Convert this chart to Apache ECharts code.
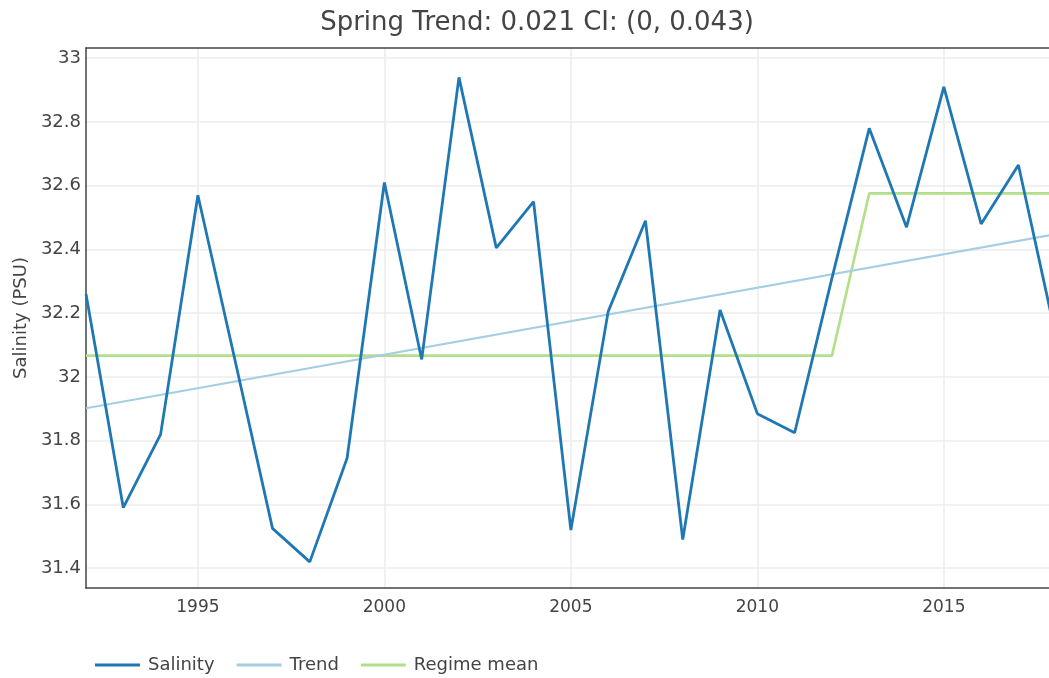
<!DOCTYPE html>
<html>
<head>
<meta charset="utf-8">
<script src="https://cdn.jsdelivr.net/npm/echarts@6/dist/echarts.min.js"></script>
<style>
html,body{margin:0;padding:0;background:#fff;}
#chart{width:1049px;height:678px;}
</style>
</head>
<body>
<div id="chart"></div>
<script>
var years = [1992,1993,1994,1995,1996,1997,1998,1999,2000,2001,2002,2003,2004,2005,2006,2007,2008,2009,2010,2011,2012,2013,2014,2015,2016,2017,2018];
var salinity = [32.26,31.59,31.82,32.57,32.05,31.525,31.42,31.745,32.61,32.055,32.94,32.405,32.55,31.52,32.205,32.49,31.49,32.21,31.885,31.825,32.31,32.78,32.47,32.91,32.48,32.665,32.13];
var trendYears = [1992, 2018];
var trendValues = [31.902, 32.448];
var regimeMean = [32.067,32.067,32.067,32.067,32.067,32.067,32.067,32.067,32.067,32.067,32.067,32.067,32.067,32.067,32.067,32.067,32.067,32.067,32.067,32.067,32.067,32.576,32.576,32.576,32.576,32.576,32.576];
var xTicks = [1995,2000,2005,2010,2015];
var yTicks = [31.4,31.6,31.8,32,32.2,32.4,32.6,32.8,33];

function pairs(xs, ys){ return xs.map(function(x,i){ return [x, ys[i]]; }); }

var font = 'DejaVu Sans';
var chart = echarts.init(document.getElementById('chart'), null, {renderer:'canvas'});
chart.setOption({
  animation: false,
  backgroundColor: '#fff',
  title: {
    text: 'Spring Trend: 0.021 CI: (0, 0.043)',
    left: 532, top: 5, textAlign: 'center',
    textStyle: {fontFamily: font, fontSize: 26, fontWeight: 'normal', color: '#444'}
  },
  legend: {
    left: 95, top: 656, padding: 0,
    icon: 'rect',
    itemWidth: 45, itemHeight: 3, itemGap: 22,
    textStyle: {fontFamily: font, fontSize: 18, color: '#444', padding:[0,0,0,3]},
    data: ['Salinity','Trend','Regime mean']
  },
  grid: {left: 86, top: 48, bottom: 90, right: -3, containLabel: false},
  xAxis: [{
    type: 'value', min: 1992, max: 2017.82,
    axisLine: {show: true, onZero: false, lineStyle: {color: '#444', width: 1.5}},
    axisTick: {show: false, customValues: xTicks},
    axisLabel: {customValues: xTicks, formatter: function(v){ return String(v); },
      fontFamily: font, fontSize: 17, color: '#444', margin: 11},
    splitLine: {show: true, lineStyle: {color: '#ececec', width: 1.5}}
  },{
    type: 'value', min: 1992, max: 2017.82, position: 'top',
    axisLine: {show: true, onZero: false, lineStyle: {color: '#444', width: 1.5}},
    axisTick: {show: false}, axisLabel: {show: false}, splitLine: {show: false}
  }],
  yAxis: {
    type: 'value', min: 31.338, max: 33.032,
    name: 'Salinity (PSU)', nameLocation: 'middle', nameGap: 52,
    nameTextStyle: {fontFamily: font, fontSize: 18, color: '#444'},
    axisLine: {show: true, onZero: false, lineStyle: {color: '#444', width: 1.5}},
    axisTick: {show: false, customValues: yTicks},
    axisLabel: {customValues: yTicks, fontFamily: font, fontSize: 18, color: '#444', margin: 5},
    splitLine: {show: true, lineStyle: {color: '#ececec', width: 1.5}}
  },
  series: [
    {name: 'Salinity', type: 'line', data: pairs(years, salinity), symbol: 'none',
     lineStyle: {color: '#1f78b4', width: 2.8}, itemStyle: {color: '#1f78b4'}, z: 4},
    {name: 'Trend', type: 'line', data: pairs(trendYears, trendValues), symbol: 'none',
     lineStyle: {color: '#a6cee3', width: 2.2}, itemStyle: {color: '#a6cee3'}, z: 3},
    {name: 'Regime mean', type: 'line', data: pairs(years, regimeMean), symbol: 'none',
     lineStyle: {color: '#b2df8a', width: 2.6}, itemStyle: {color: '#b2df8a'}, z: 2}
  ]
});
</script>
</body>
</html>
